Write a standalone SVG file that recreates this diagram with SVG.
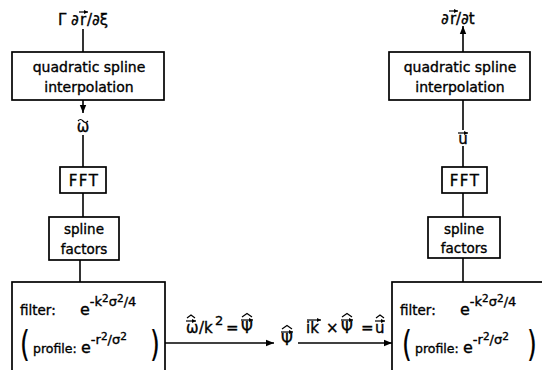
<svg xmlns="http://www.w3.org/2000/svg" width="542" height="370" viewBox="0 0 542 370">
<defs>
<style>
.box{fill:#fff;stroke:#000;stroke-width:1.7}
.ln{fill:none;stroke:#000;stroke-width:1.6}
.acc{fill:none;stroke:#000;stroke-width:1.2}
text{font-family:"DejaVu Sans","Liberation Sans",sans-serif;fill:#000;stroke:#000;stroke-width:0.35}
.t{font-size:13.5px}
.pr{font-size:12.5px}
.q{font-size:14px}
.f{font-size:15px;letter-spacing:1.5px}
.c{text-anchor:middle}
.m{font-size:15px}
.e{font-size:16px}
.s{font-size:13px}
.ss{font-size:10.5px}
.p{font-size:36px;stroke-width:0.2}
</style>
<marker id="ah" viewBox="0 0 10 10" refX="10" refY="5" markerWidth="8" markerHeight="8" markerUnits="userSpaceOnUse" orient="auto">
<path d="M0,1 L10,5 L0,9 Z" fill="#000"/>
</marker>
<marker id="sa" viewBox="0 0 10 10" refX="10" refY="5" markerWidth="4" markerHeight="4" markerUnits="userSpaceOnUse" orient="auto">
<path d="M0,0 L10,5 L0,10 Z" fill="#000"/>
</marker>
</defs>

<g id="connectors">
<line class="ln" x1="83" y1="29" x2="83" y2="52"/>
<line class="ln" x1="83" y1="100" x2="83" y2="113" marker-end="url(#ah)"/>
<line class="ln" x1="83" y1="135" x2="83" y2="167"/>
<line class="ln" x1="83" y1="193" x2="83" y2="217"/>
<line class="ln" x1="80" y1="260" x2="80" y2="282"/>
<line class="ln" x1="165" y1="343" x2="274" y2="343" marker-end="url(#ah)"/>
<line class="ln" x1="298" y1="343" x2="392" y2="343" marker-end="url(#ah)"/>
<line class="ln" x1="463" y1="282" x2="463" y2="258"/>
<line class="ln" x1="463" y1="217" x2="463" y2="193"/>
<line class="ln" x1="463" y1="167" x2="463" y2="146"/>
<line class="ln" x1="463" y1="130" x2="463" y2="100"/>
<line class="ln" x1="463" y1="52" x2="463" y2="26" marker-end="url(#ah)"/>
</g>

<g id="label-top-left">
<text class="m" x="58" y="25">Γ</text>
<text class="m" x="71" y="25">∂</text>
<text class="m" x="80" y="25">r</text>
<text class="m" x="87" y="25">/∂ξ</text>
<line class="acc" x1="79" y1="12" x2="88" y2="12" marker-end="url(#sa)"/>
</g>

<g id="interp-left">
<rect class="box" x="12" y="52" width="152" height="48"/>
<text class="q c" x="89" y="72">quadratic spline</text>
<text class="q c" x="89" y="92">interpolation</text>
</g>

<g id="label-omega">
<text class="m c" x="83" y="132">ω</text>
<path class="acc" d="M78,121 q2.5,-3 5,0 t5,0"/>
</g>

<g id="fft-left">
<rect class="box" x="60" y="167" width="46" height="26"/>
<text class="f c" x="84" y="186">FFT</text>
</g>

<g id="spline-left">
<rect class="box" x="49" y="217" width="70" height="43"/>
<text class="t c" x="84" y="234">spline</text>
<text class="t c" x="84" y="254">factors</text>
</g>

<g id="filter-left">
<rect class="box" x="12" y="282" width="153" height="100"/>
<text class="t" x="20" y="315">filter:</text>
<text class="e" x="80" y="315">e<tspan class="s" dy="-9">-k</tspan><tspan class="ss" dy="-4">2</tspan><tspan class="s" dy="4">σ</tspan><tspan class="ss" dy="-4">2</tspan><tspan class="s" dy="4">/4</tspan></text>
<text class="p" x="20" y="356" transform="translate(20 343) scale(0.7 1) translate(-20 -343)">(</text>
<text class="pr" x="33" y="353">profile:</text>
<text class="e" x="81" y="353">e<tspan class="s" dy="-9">-r</tspan><tspan class="ss" dy="-4">2</tspan><tspan class="s" dy="4">/σ</tspan><tspan class="ss" dy="-4">2</tspan></text>
<text class="p" x="150" y="356" transform="translate(150 343) scale(0.7 1) translate(-150 -343)">)</text>
</g>

<g id="label-omega-k2">
<text class="m" x="186" y="333">ω</text>
<line class="acc" x1="186" y1="321" x2="196" y2="321" marker-end="url(#sa)"/>
<path class="acc" d="M187,318 L191,315 L195,318"/>
<text class="m" x="199" y="333">/k</text>
<text class="s" x="215" y="325">2</text>
<text class="m" x="226" y="333">=</text>
<text class="m" x="241" y="333">Ψ</text>
<line class="acc" x1="241" y1="320" x2="253" y2="320" marker-end="url(#sa)"/>
<path class="acc" d="M242,317 L247,313.5 L252,317"/>
</g>

<g id="psi-node">
<text class="m" x="281" y="345">Ψ</text>
<line class="acc" x1="281" y1="332" x2="293" y2="332" marker-end="url(#sa)"/>
<path class="acc" d="M282,329 L287,325.5 L292,329"/>
</g>

<g id="label-curl">
<text class="m" x="306" y="333">ik</text>
<line class="acc" x1="307" y1="320" x2="321" y2="320" marker-end="url(#sa)"/>
<text class="m" x="326" y="333">×</text>
<text class="m" x="341" y="333">Ψ</text>
<line class="acc" x1="341" y1="320" x2="353" y2="320" marker-end="url(#sa)"/>
<path class="acc" d="M342,317 L347,313.5 L352,317"/>
<text class="m" x="361" y="333">=</text>
<text class="m" x="375" y="333">u</text>
<line class="acc" x1="375" y1="321" x2="385" y2="321" marker-end="url(#sa)"/>
<path class="acc" d="M376,318 L380,315 L384,318"/>
</g>

<g id="label-top-right">
<text class="m" x="441" y="24">∂</text>
<text class="m" x="450" y="24">r</text>
<text class="m" x="456" y="24">/∂t</text>
<line class="acc" x1="449" y1="11" x2="458" y2="11" marker-end="url(#sa)"/>
</g>

<g id="interp-right">
<rect class="box" x="389" y="52" width="141" height="48"/>
<text class="q c" x="460" y="72">quadratic spline</text>
<text class="q c" x="460" y="92">interpolation</text>
</g>

<g id="label-u">
<text class="m c" x="463" y="144">u</text>
<line class="acc" x1="458" y1="133" x2="468" y2="133" marker-end="url(#sa)"/>
</g>

<g id="fft-right">
<rect class="box" x="442" y="167" width="45" height="26"/>
<text class="f c" x="465" y="186">FFT</text>
</g>

<g id="spline-right">
<rect class="box" x="428" y="217" width="72" height="41"/>
<text class="t c" x="464" y="234">spline</text>
<text class="t c" x="464" y="253">factors</text>
</g>

<g id="filter-right">
<rect class="box" x="392" y="282" width="160" height="100"/>
<text class="t" x="400" y="315">filter:</text>
<text class="e" x="460" y="315">e<tspan class="s" dy="-9">-k</tspan><tspan class="ss" dy="-4">2</tspan><tspan class="s" dy="4">σ</tspan><tspan class="ss" dy="-4">2</tspan><tspan class="s" dy="4">/4</tspan></text>
<text class="p" x="402" y="356" transform="translate(402 343) scale(0.7 1) translate(-402 -343)">(</text>
<text class="pr" x="415" y="353">profile:</text>
<text class="e" x="463" y="353">e<tspan class="s" dy="-9">-r</tspan><tspan class="ss" dy="-4">2</tspan><tspan class="s" dy="4">/σ</tspan><tspan class="ss" dy="-4">2</tspan></text>
<text class="p" x="527" y="356" transform="translate(527 343) scale(0.7 1) translate(-527 -343)">)</text>
</g>
</svg>
